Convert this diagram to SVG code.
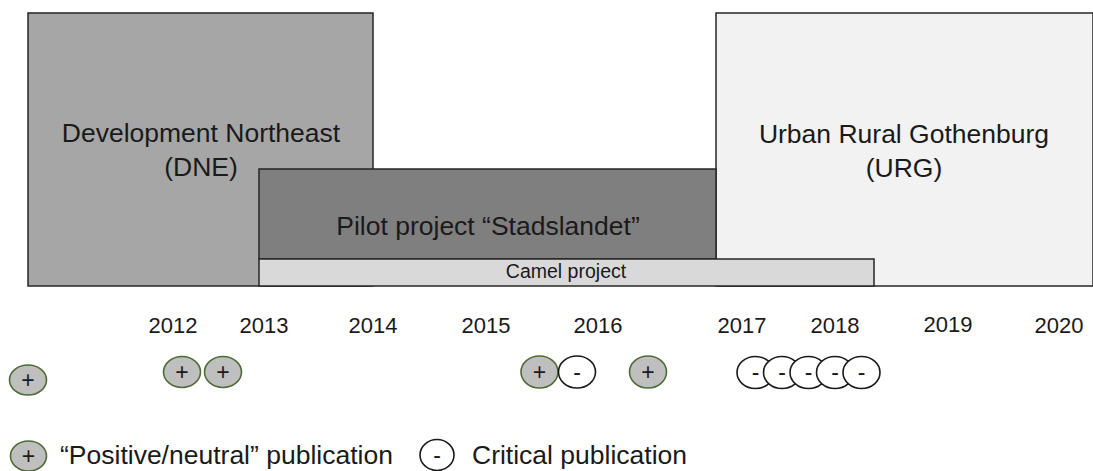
<svg xmlns="http://www.w3.org/2000/svg" width="1093" height="471" viewBox="0 0 1093 471">
<style>
text{font-family:"Liberation Sans",Arial,sans-serif;fill:#1a1a1a;text-anchor:middle}
.box{stroke:#262626;stroke-width:1.5}
.big{font-size:26.5px}
.yr{font-size:22px}
.pos{fill:#bfbfbf;stroke:#4f6b35;stroke-width:1.6}
.neg{fill:#ffffff;stroke:#1a1a1a;stroke-width:1.6}
.sym{font-size:23px}
.leg{font-size:26.5px;text-anchor:start}
</style>
<rect width="1093" height="471" fill="#ffffff"/>
<g id="dne">
<rect class="box" x="28" y="13" width="345" height="273" fill="#a6a6a6"/>
<text class="big" x="201" y="142">Development Northeast</text>
<text class="big" x="201" y="176">(DNE)</text>
</g>
<g id="urg">
<rect class="box" x="716" y="13" width="377" height="273" fill="#f2f2f2"/>
<text class="big" x="904" y="143">Urban Rural Gothenburg</text>
<text class="big" x="904" y="177">(URG)</text>
</g>
<g id="pilot">
<rect class="box" x="259" y="169" width="457" height="90" fill="#7f7f7f"/>
<text class="big" x="488" y="235">Pilot project “Stadslandet”</text>
</g>
<g id="camel">
<rect class="box" x="259" y="259" width="615" height="27" fill="#d9d9d9"/>
<text x="566" y="278" style="font-size:19.5px">Camel project</text>
</g>
<g id="years">
<text class="yr" x="173" y="333">2012</text>
<text class="yr" x="264" y="333">2013</text>
<text class="yr" x="373" y="333">2014</text>
<text class="yr" x="486" y="333">2015</text>
<text class="yr" x="598" y="333">2016</text>
<text class="yr" x="742" y="333">2017</text>
<text class="yr" x="835" y="333">2018</text>
<text class="yr" x="948" y="332">2019</text>
<text class="yr" x="1059" y="333">2020</text>
</g>
<g id="publications">
<g id="p1"><ellipse class="pos" cx="28" cy="380" rx="18.5" ry="15"/><text class="sym" x="28" y="388">+</text></g>
<g id="p2"><ellipse class="pos" cx="182" cy="372" rx="18.5" ry="15.5"/><text class="sym" x="182" y="380">+</text></g>
<g id="p3"><ellipse class="pos" cx="223" cy="372" rx="18.5" ry="15.5"/><text class="sym" x="223" y="380">+</text></g>
<g id="p4"><ellipse class="pos" cx="539.5" cy="372" rx="18.5" ry="16"/><text class="sym" x="539.5" y="380">+</text></g>
<g id="c1"><ellipse class="neg" cx="577" cy="372" rx="18.5" ry="16"/><text class="sym" x="577" y="380">-</text></g>
<g id="p5"><ellipse class="pos" cx="648" cy="372" rx="18.5" ry="16"/><text class="sym" x="648" y="380">+</text></g>
<g id="c2"><ellipse class="neg" cx="755.5" cy="372.5" rx="18.5" ry="16"/><text class="sym" x="755.5" y="380">-</text></g>
<g id="c3"><ellipse class="neg" cx="782" cy="372.5" rx="18.5" ry="16"/><text class="sym" x="782" y="380">-</text></g>
<g id="c4"><ellipse class="neg" cx="808.5" cy="372.5" rx="18.5" ry="16"/><text class="sym" x="808.5" y="380">-</text></g>
<g id="c5"><ellipse class="neg" cx="835" cy="372.5" rx="18.5" ry="16"/><text class="sym" x="835" y="380">-</text></g>
<g id="c6"><ellipse class="neg" cx="861.5" cy="372.5" rx="18.5" ry="16"/><text class="sym" x="861.5" y="380">-</text></g>
</g>
<g id="legend">
<ellipse class="pos" cx="28.5" cy="456" rx="18" ry="15"/><text class="sym" x="28.5" y="464">+</text>
<text class="leg" x="60" y="464">“Positive/neutral” publication</text>
<ellipse class="neg" cx="437" cy="455" rx="17" ry="15.5"/><text class="sym" x="437" y="463">-</text>
<text class="leg" x="472" y="464">Critical publication</text>
</g>
</svg>
